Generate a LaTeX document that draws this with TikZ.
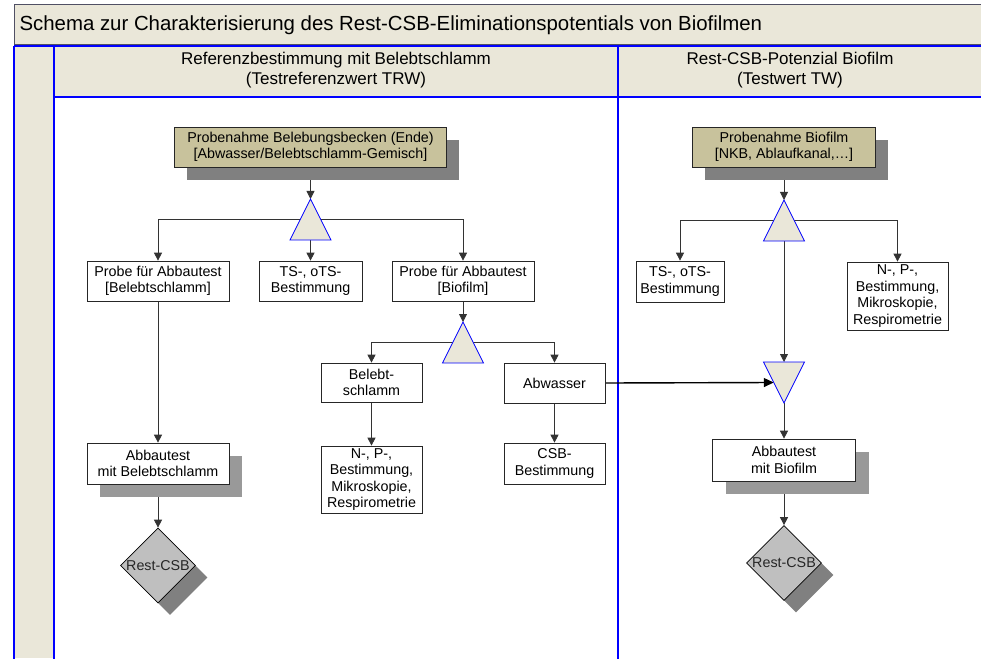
\documentclass[tikz,border=0pt]{standalone}
\usepackage{fontspec}
\setmainfont{Liberation Sans}
\usetikzlibrary{calc,positioning,shapes.geometric,shadows,arrows.meta}

\definecolor{laneback}{RGB}{234,231,217}
\definecolor{samplefill}{RGB}{200,194,156}
\definecolor{titleline}{RGB}{80,80,100}

\pgfdeclarelayer{lanes}
\pgfdeclarelayer{wires}
\pgfsetlayers{lanes,wires,main}

\begin{document}
\begin{tikzpicture}[x=1pt, y=-1pt
        , box/.style={ rectangle, draw=black!85, fill=white, line width=.7pt, inner sep=0pt,
                align=center, font=\fontsize{14.3}{16.5}\selectfont }
        , samplebox/.style={ box, fill=samplefill,
                drop shadow={shadow xshift=12pt, shadow yshift=-13pt, fill=black!50, opacity=1} }
        , testbox/.style={ box,
                drop shadow={shadow xshift=13pt, shadow yshift=-13pt, fill=black!40, opacity=1} }
        , splitter/.style={ isosceles triangle, isosceles triangle stretches, shape border rotate=90,
                minimum width=41pt, minimum height=41pt, inner sep=0pt, outer sep=0pt,
                draw=blue, fill=laneback, line width=.8pt }
        , joiner/.style={ splitter, shape border rotate=270 }
        , result/.style={ diamond, draw=black, fill=black!25, line width=.7pt, inner sep=0pt,
                minimum width=75pt, minimum height=75pt, text=black!85,
                font=\fontsize{14.3}{16.5}\selectfont,
                drop shadow={shadow xshift=12pt, shadow yshift=-12pt, fill=black!50, opacity=1} }
        , flow/.style={ draw=black!80, line width=.8pt, -{Triangle[length=8pt,width=8pt]} }
        , lane/.style={ draw=blue, line width=1.3pt }
        , headtext/.style={ align=center, font=\fontsize{17}{20}\selectfont }
        ]
        \useasboundingbox (0,0) rectangle (981,658);

        % pool with two lanes
        \begin{pgfonlayer}{lanes}
        \fill[laneback] (14,45) rectangle (981,97);
        \fill[laneback] (14,97) rectangle (54,658);
        \draw[fill=laneback, draw=titleline, line width=1pt] (14,5) rectangle (990,44.5);
        \foreach \x in {14,54,618}
            \draw[lane] (\x,46) -- (\x,660);
        \draw[lane] (14,46) -- (981,46);
        \draw[lane] (54,97) -- (981,97);
        \end{pgfonlayer}

        \node[anchor=west, font=\fontsize{20.4}{24}\selectfont] (title) at (16,25)
            {Schema zur Charakterisierung des Rest-CSB-Eliminationspotentials von Biofilmen};
        \node[headtext] (refhead) at (336,70) {Referenzbestimmung mit Belebtschlamm\\(Testreferenzwert TRW)};
        \node[headtext] (biohead) at (790,70) {Rest-CSB-Potenzial Biofilm\\(Testwert TW)};

        % reference with activated sludge
        \node[samplebox, minimum width=272pt, minimum height=40pt] (probebb) at (310.5,147)
            {Probenahme Belebungsbecken (Ende)\\{[}Abwasser/Belebtschlamm-Gemisch{]}};
        \node[splitter, anchor=apex] (teil1) at (310.5,199) {};
        \node[box, minimum width=142pt, minimum height=40pt] (probebs) at (158,281)
            {Probe für Abbautest\\{[}Belebtschlamm{]}};
        \node[box, minimum width=103pt, minimum height=40pt] (tsbs) at (310.5,281)
            {TS-, oTS-\\Bestimmung};
        \node[box, minimum width=142pt, minimum height=40pt] (probebf) at (463,281)
            {Probe für Abbautest\\{[}Biofilm{]}};
        \node[splitter, anchor=apex] (teil2) at (463,322) {};
        \node[box, minimum width=101pt, minimum height=39pt] (belebt) at (371.5,382.5)
            {Belebt-\\schlamm};
        \node[box, minimum width=101pt, minimum height=40pt] (abwasser) at (554.5,383)
            {Abwasser};
        \node[box, minimum width=101pt, minimum height=67pt] (npbs) at (371.5,479.5)
            {N-, P-,\\Bestimmung,\\Mikroskopie,\\Respirometrie};
        \node[box, minimum width=101pt, minimum height=41pt] (csb) at (554.5,463.5)
            {CSB-\\Bestimmung};
        \node[testbox, minimum width=142pt, minimum height=41pt] (abbbs) at (158,463.5)
            {Abbautest\\mit Belebtschlamm};
        \node[result] (restbs) at (158,565.5) {Rest-CSB};

        % biofilm
        \node[samplebox, minimum width=183pt, minimum height=40pt] (probebio) at (784,147)
            {Probenahme Biofilm\\{[}NKB, Ablaufkanal,…{]}};
        \node[splitter, anchor=apex] (teil3) at (784,200) {};
        \node[box, minimum width=88pt, minimum height=41pt] (tsbio) at (680,281.5)
            {TS-, oTS-\\Bestimmung};
        \node[box, minimum width=101pt, minimum height=68pt] (npbio) at (897.5,296)
            {N-, P-,\\Bestimmung,\\Mikroskopie,\\Respirometrie};
        \node[joiner, anchor=apex] (misch) at (784,403) {};
        \node[testbox, minimum width=143pt, minimum height=42pt] (abbbio) at (784,460)
            {Abbautest\\mit Biofilm};
        \node[result] (restbio) at (784,563) {Rest-CSB};

        \begin{pgfonlayer}{wires}
        \draw[flow] (probebb) -- (teil1);
        \draw[flow] (teil1) -- (tsbs);
        \draw[flow] (teil1.left side) -| (probebs);
        \draw[flow] (teil1.right side) -| (probebf);
        \draw[flow] (probebs) -- (abbbs);
        \draw[flow] (abbbs) -- (restbs);
        \draw[flow] (probebf) -- (teil2);
        \draw[flow] (teil2.left side) -| (belebt);
        \draw[flow] (teil2.right side) -| (abwasser);
        \draw[flow] (belebt) -- (npbs);
        \draw[flow] (abwasser) -- (csb);
        % water sample goes to the biofilm test
        \draw[flow, draw=black, line width=1.4pt, -{Triangle[length=10pt,width=9pt]}]
            (abwasser.east) -- (misch.right side);
        \draw[flow] (probebio) -- (teil3);
        \draw[flow] (teil3.left side) -| (tsbio);
        \draw[flow] (teil3.right side) -| (npbio);
        \draw[flow] (teil3) -- (misch);
        \draw[flow] (misch) -- (abbbio);
        \draw[flow] (abbbio) -- (restbio);
        \end{pgfonlayer}

    \end{tikzpicture}
\end{document}
